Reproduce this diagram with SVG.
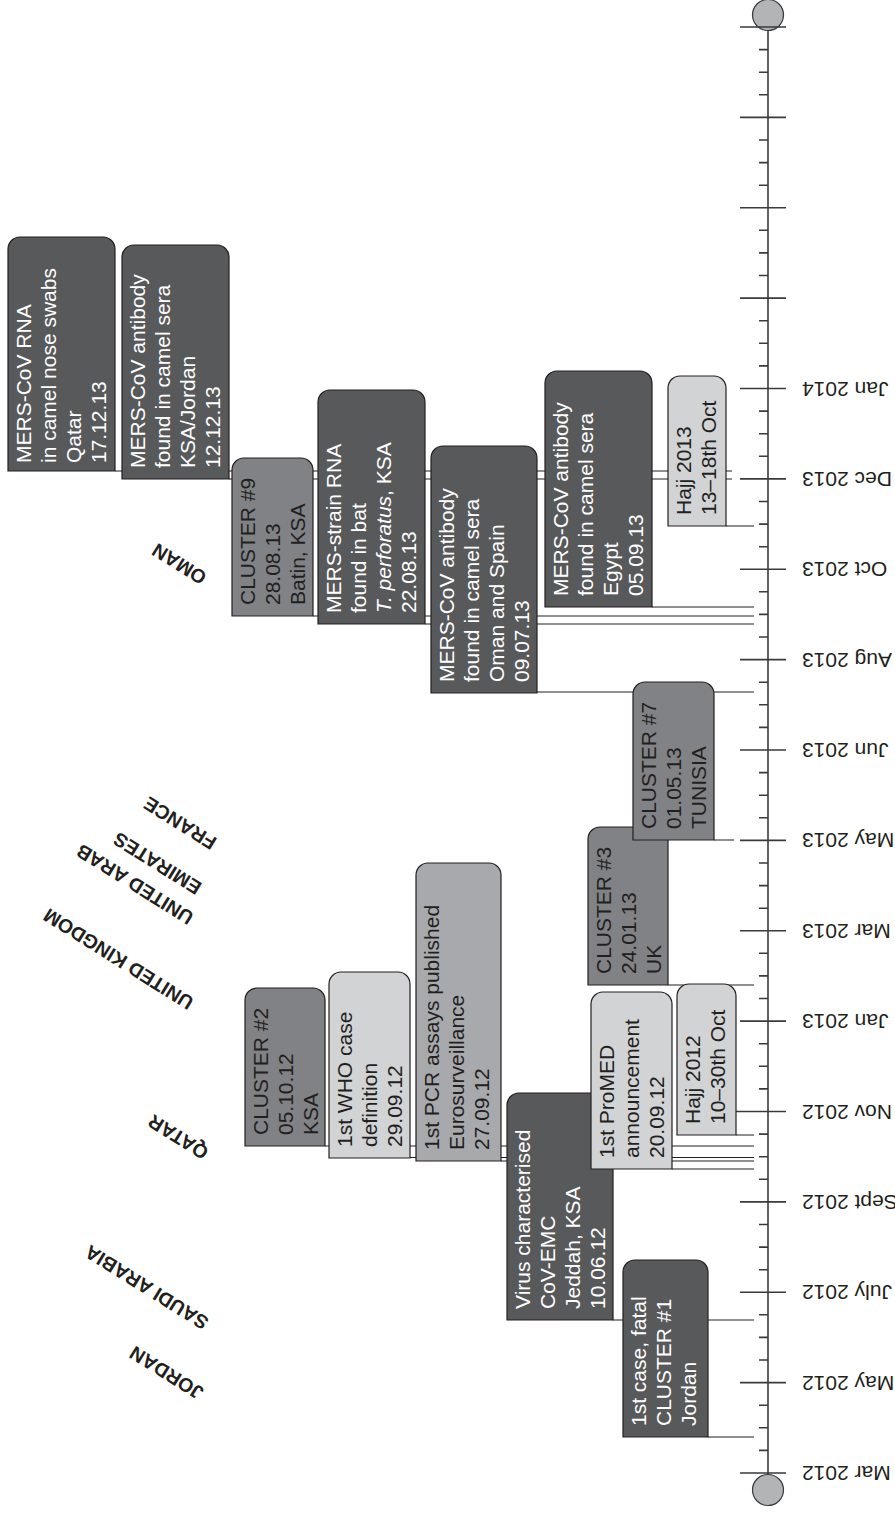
<svg xmlns="http://www.w3.org/2000/svg" width="895" height="1514" viewBox="0 0 895 1514">
<style>
.bx{stroke:#231f20;stroke-width:1.2}
.dk{fill:#58595b}.md{fill:#808285}.pc{fill:#a7a9ac}.lt{fill:#d1d3d4}
.t{font-family:"Liberation Sans",Arial,sans-serif;font-size:21px}
.tw{fill:#ffffff}.tb{fill:#231f20}
.mo{font-family:"Liberation Sans",Arial,sans-serif;font-size:21px;fill:#231f20;text-anchor:end}
.ct{font-family:"Liberation Sans",Arial,sans-serif;font-size:19.5px;font-weight:bold;fill:#231f20}
.ln{stroke:#231f20;stroke-width:1.2;fill:none}
.ax{stroke:#3a3a3a;stroke-width:1.6;fill:none}
</style>
<rect width="895" height="1514" fill="#ffffff"/>
<g id="axis">
<line class="ax" x1="768" y1="15" x2="768" y2="1490"/>
<circle cx="768" cy="15" r="15.5" fill="#b3b4b6" stroke="#3a3a3a" stroke-width="1.2"/>
<circle cx="768" cy="1490" r="15.5" fill="#b3b4b6" stroke="#3a3a3a" stroke-width="1.2"/>
<path class="ax" d="M740 27H786M740 117.4H786M740 207.75H786M740 298.1H786M740 388.5H786M740 478.9H786M740 569.25H786M740 659.6H786M740 750H786M740 840.4H786M740 930.75H786M740 1021.1H786M736 1111.5H786M740 1201.9H786M740 1292.25H786M740 1382.6H786M740 1473H786"/>
<path class="ax" d="M759 49.6H768M759 72.2H768M759 94.8H768M759 140H768M759 162.6H768M759 185.2H768M759 230.3H768M759 252.9H768M759 275.5H768M759 320.7H768M759 343.3H768M759 365.9H768M759 411.1H768M759 433.7H768M759 456.3H768M759 501.5H768M759 524.1H768M759 546.7H768M759 591.8H768M759 614.4H768M759 637H768M759 682.2H768M759 704.8H768M759 727.4H768M759 772.6H768M759 795.2H768M759 817.8H768M759 863H768M759 885.6H768M759 908.2H768M759 953.3H768M759 975.9H768M759 998.5H768M759 1043.7H768M759 1066.3H768M759 1088.9H768M759 1134.1H768M759 1156.7H768M759 1179.3H768M759 1224.5H768M759 1247.1H768M759 1269.7H768M759 1314.8H768M759 1337.4H768M759 1360H768M759 1405.2H768M759 1427.8H768M759 1450.4H768"/>
<text class="mo" x="802" y="381.5" transform="rotate(180 802 381.5)">Jan 2014</text>
<text class="mo" x="802" y="471.9" transform="rotate(180 802 471.9)">Dec 2013</text>
<text class="mo" x="802" y="562.25" transform="rotate(180 802 562.25)">Oct 2013</text>
<text class="mo" x="802" y="652.6" transform="rotate(180 802 652.6)">Aug 2013</text>
<text class="mo" x="802" y="743" transform="rotate(180 802 743)">Jun 2013</text>
<text class="mo" x="802" y="833.4" transform="rotate(180 802 833.4)">May 2013</text>
<text class="mo" x="802" y="923.75" transform="rotate(180 802 923.75)">Mar 2013</text>
<text class="mo" x="802" y="1014.1" transform="rotate(180 802 1014.1)">Jan 2013</text>
<text class="mo" x="802" y="1104.5" transform="rotate(180 802 1104.5)">Nov 2012</text>
<text class="mo" x="802" y="1194.9" transform="rotate(180 802 1194.9)">Sept 2012</text>
<text class="mo" x="802" y="1285.25" transform="rotate(180 802 1285.25)">July 2012</text>
<text class="mo" x="802" y="1375.6" transform="rotate(180 802 1375.6)">May 2012</text>
<text class="mo" x="802" y="1466" transform="rotate(180 802 1466)">Mar 2012</text>
</g>
<g id="connectors">
<path class="ln" d="M115 471H732M229 479H732M726 526H754M652 607H754M313 616H754M425 624H754M537 692H754M714 840H734M668 985H754M736 1135H754M325 1146H754M410 1157.5H754M501 1161H754M672 1169H754M613 1320H754M708 1437H754"/>
</g>
<g id="countries">
<text class="ct" transform="translate(208 574) rotate(212)">OMAN</text>
<text class="ct" transform="translate(218 839) rotate(212)">FRANCE</text>
<text class="ct" transform="translate(203 884) rotate(212)">EMIRATES</text>
<text class="ct" transform="translate(195 914) rotate(212)">UNITED ARAB</text>
<text class="ct" transform="translate(195 999) rotate(212)">UNITED KINGDOM</text>
<text class="ct" transform="translate(210 1149) rotate(212)">QATAR</text>
<text class="ct" transform="translate(210 1319) rotate(212)">SAUDI ARABIA</text>
<text class="ct" transform="translate(205 1389) rotate(212)">JORDAN</text>
</g>
<g id="n-qatar"><path class="bx dk" d="M8,471V249A12,12 0 0 1 20,237H103A12,12 0 0 1 115,249V471Z"/>
<text class="t tw" transform="translate(30.5 463) rotate(-90)"><tspan x="0" y="0">MERS-CoV RNA</tspan><tspan x="0" dy="25.3">in camel nose swabs</tspan><tspan x="0" dy="25.3">Qatar</tspan><tspan x="0" dy="25.3">17.12.13</tspan></text></g>
<g id="n-ksajordan"><path class="bx dk" d="M122,479V257A12,12 0 0 1 134,245H217A12,12 0 0 1 229,257V479Z"/>
<text class="t tw" transform="translate(144.5 468) rotate(-90)"><tspan x="0" y="0">MERS-CoV antibody</tspan><tspan x="0" dy="25.3">found in camel sera</tspan><tspan x="0" dy="25.3">KSA/Jordan</tspan><tspan x="0" dy="25.3">12.12.13</tspan></text></g>
<g id="n-cluster9"><path class="bx md" d="M232,616V470A12,12 0 0 1 244,458H301A12,12 0 0 1 313,470V616Z"/>
<text class="t tb" transform="translate(254.5 605) rotate(-90)"><tspan x="0" y="0">CLUSTER #9</tspan><tspan x="0" dy="25.3">28.08.13</tspan><tspan x="0" dy="25.3">Batin, KSA</tspan></text></g>
<g id="n-rna"><path class="bx dk" d="M318,624V402A12,12 0 0 1 330,390H413A12,12 0 0 1 425,402V624Z"/>
<text class="t tw" transform="translate(340.5 613) rotate(-90)"><tspan x="0" y="0">MERS-strain RNA</tspan><tspan x="0" dy="25.3">found in bat</tspan><tspan x="0" dy="25.3"><tspan font-style="italic">T. perforatus</tspan>, KSA</tspan><tspan x="0" dy="25.3">22.08.13</tspan></text></g>
<g id="n-oman"><path class="bx dk" d="M431,693V458A12,12 0 0 1 443,446H525A12,12 0 0 1 537,458V693Z"/>
<text class="t tw" transform="translate(453.5 682) rotate(-90)"><tspan x="0" y="0">MERS-CoV antibody</tspan><tspan x="0" dy="25.3">found in camel sera</tspan><tspan x="0" dy="25.3">Oman and Spain</tspan><tspan x="0" dy="25.3">09.07.13</tspan></text></g>
<g id="n-egypt"><path class="bx dk" d="M545,607V383A12,12 0 0 1 557,371H640A12,12 0 0 1 652,383V607Z"/>
<text class="t tw" transform="translate(567.5 596) rotate(-90)"><tspan x="0" y="0">MERS-CoV antibody</tspan><tspan x="0" dy="25.3">found in camel sera</tspan><tspan x="0" dy="25.3">Egypt</tspan><tspan x="0" dy="25.3">05.09.13</tspan></text></g>
<g id="n-hajj2013"><path class="bx lt" d="M668,526V388A12,12 0 0 1 680,376H714A12,12 0 0 1 726,388V526Z"/>
<text class="t tb" transform="translate(690.5 515) rotate(-90)"><tspan x="0" y="0">Hajj 2013</tspan><tspan x="0" dy="25.3">13–18th Oct</tspan></text></g>
<g id="n-cluster3"><path class="bx md" d="M588,985V839A12,12 0 0 1 600,827H656A12,12 0 0 1 668,839V985Z"/>
<text class="t tb" transform="translate(610.5 974) rotate(-90)"><tspan x="0" y="0">CLUSTER #3</tspan><tspan x="0" dy="25.3">24.01.13</tspan><tspan x="0" dy="25.3">UK</tspan></text></g>
<g id="n-cluster7"><path class="bx md" d="M633,840V694A12,12 0 0 1 645,682H702A12,12 0 0 1 714,694V840Z"/>
<text class="t tb" transform="translate(655.5 829) rotate(-90)"><tspan x="0" y="0">CLUSTER #7</tspan><tspan x="0" dy="25.3">01.05.13</tspan><tspan x="0" dy="25.3">TUNISIA</tspan></text></g>
<g id="n-cluster2"><path class="bx md" d="M245,1146V1000A12,12 0 0 1 257,988H313A12,12 0 0 1 325,1000V1146Z"/>
<text class="t tb" transform="translate(267.5 1135) rotate(-90)"><tspan x="0" y="0">CLUSTER #2</tspan><tspan x="0" dy="25.3">05.10.12</tspan><tspan x="0" dy="25.3">KSA</tspan></text></g>
<g id="n-who"><path class="bx lt" d="M329,1158V984A12,12 0 0 1 341,972H398A12,12 0 0 1 410,984V1158Z"/>
<text class="t tb" transform="translate(351.5 1147) rotate(-90)"><tspan x="0" y="0">1st WHO case</tspan><tspan x="0" dy="25.3">definition</tspan><tspan x="0" dy="25.3">29.09.12</tspan></text></g>
<g id="n-pcr"><path class="bx pc" d="M416,1161V875A12,12 0 0 1 428,863H489A12,12 0 0 1 501,875V1161Z"/>
<text class="t tb" transform="translate(438.5 1150) rotate(-90)"><tspan x="0" y="0">1st PCR assays published</tspan><tspan x="0" dy="25.3">Eurosurveillance</tspan><tspan x="0" dy="25.3">27.09.12</tspan></text></g>
<g id="n-virus"><path class="bx dk" d="M507,1320V1105A12,12 0 0 1 519,1093H601A12,12 0 0 1 613,1105V1320Z"/>
<text class="t tw" transform="translate(529.5 1309) rotate(-90)"><tspan x="0" y="0">Virus characterised</tspan><tspan x="0" dy="25.3">CoV-EMC</tspan><tspan x="0" dy="25.3">Jeddah, KSA</tspan><tspan x="0" dy="25.3">10.06.12</tspan></text></g>
<g id="n-promed"><path class="bx lt" d="M591,1169V1004A12,12 0 0 1 603,992H660A12,12 0 0 1 672,1004V1169Z"/>
<text class="t tb" transform="translate(613.5 1158) rotate(-90)"><tspan x="0" y="0">1st ProMED</tspan><tspan x="0" dy="25.3">announcement</tspan><tspan x="0" dy="25.3">20.09.12</tspan></text></g>
<g id="n-hajj2012"><path class="bx lt" d="M677,1135V996A12,12 0 0 1 689,984H724A12,12 0 0 1 736,996V1135Z"/>
<text class="t tb" transform="translate(699.5 1124) rotate(-90)"><tspan x="0" y="0">Hajj 2012</tspan><tspan x="0" dy="25.3">10–30th Oct</tspan></text></g>
<g id="n-firstcase"><path class="bx dk" d="M623,1437V1272A12,12 0 0 1 635,1260H696A12,12 0 0 1 708,1272V1437Z"/>
<text class="t tw" transform="translate(645.5 1426) rotate(-90)"><tspan x="0" y="0">1st case, fatal</tspan><tspan x="0" dy="25.3">CLUSTER #1</tspan><tspan x="0" dy="25.3">Jordan</tspan></text></g>
</svg>
